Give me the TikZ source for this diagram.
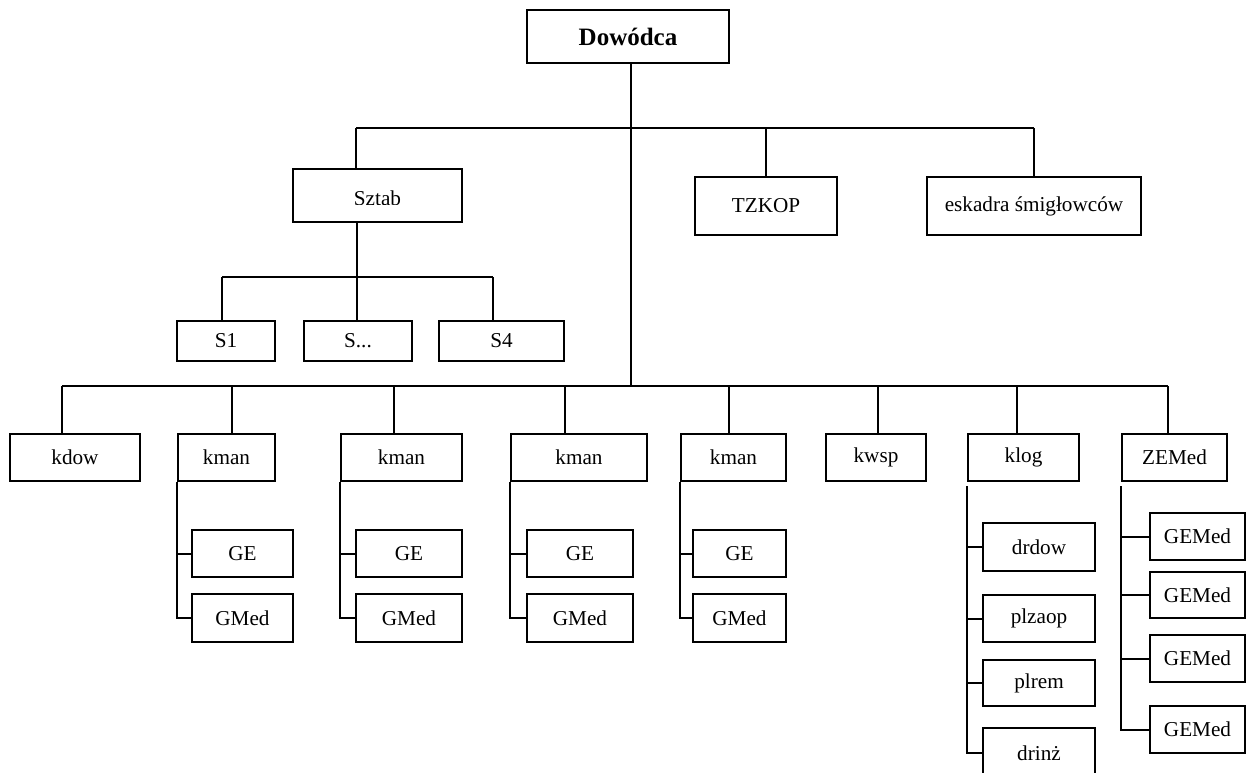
\documentclass[tikz,border=0pt]{standalone}
\usepackage{fontspec}
\setmainfont{Liberation Serif}
\begin{document}
\begin{tikzpicture}[x=1pt,y=-1pt,
  box/.style={draw, line width=2pt, inner sep=0pt, font=\fontsize{21.2}{24}\selectfont},
  conn/.style={line width=2pt}]
\useasboundingbox (0,0) rectangle (1251,773);
\clip (0,0) rectangle (1251,773);
% top
\node[box, minimum width=202pt, minimum height=53pt, font=\fontsize{25}{28}\selectfont\bfseries] (dow) at (628,36.5) {Dowódca};
\node[box, minimum width=169pt, minimum height=53pt] (sztab) at (377.5,195.5) {};
\begin{scope}
  \clip (293,169) rectangle (462,204.3);
  \node[anchor=base, inner sep=0pt, font=\fontsize{21.2}{24}\selectfont] (sztabtxt) at (377.5,205.7) {Sztab};
\end{scope}
\node[box, minimum width=142pt, minimum height=58pt] (tzkop) at (766,206) {TZKOP};
\node[box, minimum width=214pt, minimum height=58pt] (esk) at (1034,206) {eskadra śmigłowców};
% S
\node[box, minimum width=98pt, minimum height=40pt] (s1) at (226,341) {S1};
\node[box, minimum width=108pt, minimum height=40pt] (sdots) at (358,341) {S...};
\node[box, minimum width=125pt, minimum height=40pt] (s4) at (501.5,341) {S4};
% second level
\node[box, minimum width=130pt, minimum height=47pt] (kdow) at (75,457.5) {kdow};
\node[box, minimum width=97pt, minimum height=47pt] (kman1) at (226.5,457.5) {kman};
\node[box, minimum width=121pt, minimum height=47pt] (kman2) at (401.5,457.5) {kman};
\node[box, minimum width=136pt, minimum height=47pt] (kman3) at (579,457.5) {kman};
\node[box, minimum width=105pt, minimum height=47pt] (kman4) at (733.5,457.5) {kman};
\node[box, minimum width=100pt, minimum height=47pt] (kwsp) at (876,457.5) {kwsp};
\node[box, minimum width=111pt, minimum height=47pt] (klog) at (1023.5,457.5) {klog};
\node[box, minimum width=105pt, minimum height=47pt] (zemed) at (1174.5,457.5) {ZEMed};
% GE / GMed
\node[box, minimum width=101pt, minimum height=47pt] (ge1) at (242.5,553.5) {GE};
\node[box, minimum width=101pt, minimum height=48pt] (gmed1) at (242.5,618) {GMed};
\node[box, minimum width=106pt, minimum height=47pt] (ge2) at (409,553.5) {GE};
\node[box, minimum width=106pt, minimum height=48pt] (gmed2) at (409,618) {GMed};
\node[box, minimum width=106pt, minimum height=47pt] (ge3) at (580,553.5) {GE};
\node[box, minimum width=106pt, minimum height=48pt] (gmed3) at (580,618) {GMed};
\node[box, minimum width=93pt, minimum height=47pt] (ge4) at (739.5,553.5) {GE};
\node[box, minimum width=93pt, minimum height=48pt] (gmed4) at (739.5,618) {GMed};
% klog children
\node[box, minimum width=112pt, minimum height=48pt] (drdow) at (1039,547) {drdow};
\node[box, minimum width=112pt, minimum height=47pt] (plzaop) at (1039,618.5) {plzaop};
\node[box, minimum width=112pt, minimum height=46pt] (plrem) at (1039,683) {plrem};
\node[box, minimum width=112pt, minimum height=50pt] (drinz) at (1039,753) {drinż};
% ZEMed children
\node[box, minimum width=95pt, minimum height=47pt] (gemed1) at (1197.5,536.5) {GEMed};
\node[box, minimum width=95pt, minimum height=46pt] (gemed2) at (1197.5,595) {GEMed};
\node[box, minimum width=95pt, minimum height=47pt] (gemed3) at (1197.5,658.5) {GEMed};
\node[box, minimum width=95pt, minimum height=47pt] (gemed4) at (1197.5,729.5) {GEMed};
% coordinates
\coordinate (t) at (631,128);
\coordinate (h1L) at (356,128);
\coordinate (h1R) at (1034,128);
\coordinate (sj) at (357,277);
\coordinate (s1j) at (222,277);
\coordinate (s4j) at (493,277);
\coordinate (b1) at (62,386);
\coordinate (b2) at (232,386);
\coordinate (b3) at (394,386);
\coordinate (b4) at (565,386);
\coordinate (b5) at (729,386);
\coordinate (b6) at (878,386);
\coordinate (b7) at (1017,386);
\coordinate (b8) at (1168,386);
% connectors
\draw[conn] (t |- dow.south) -- (t |- b1);
\draw[conn] (h1L) -- (h1R);
\draw[conn] (h1L) -- (h1L |- sztab.north);
\draw[conn] (tzkop.north |- h1L) -- (tzkop.north);
\draw[conn] (h1R) -- (h1R |- esk.north);
\draw[conn] (sj |- sztab.south) -- (sj);
\draw[conn] (s1j) -- (s4j);
\draw[conn] (s1j) -- (s1j |- s1.north);
\draw[conn] (sj) -- (sj |- sdots.north);
\draw[conn] (s4j) -- (s4j |- s4.north);
\draw[conn] (b1) -- (b8);
\draw[conn] (b1) -- (b1 |- kdow.north);
\draw[conn] (b2) -- (b2 |- kman1.north);
\draw[conn] (b3) -- (b3 |- kman2.north);
\draw[conn] (b4) -- (b4 |- kman3.north);
\draw[conn] (b5) -- (b5 |- kman4.north);
\draw[conn] (b6) -- (b6 |- kwsp.north);
\draw[conn] (b7) -- (b7 |- klog.north);
\draw[conn] (b8) -- (b8 |- zemed.north);
\foreach \k in {1,2,3,4}{
  \draw[conn] (kman\k.south west) -- (kman\k.south west |- gmed\k.west) -- (gmed\k.west);
  \draw[conn] (kman\k.south west |- ge\k.west) -- (ge\k.west);
}
\draw[conn] ([yshift=-4pt]klog.south west) -- (klog.south west |- drinz.west) -- (drinz.west);
\draw[conn] (klog.south west |- drdow.west) -- (drdow.west);
\draw[conn] (klog.south west |- plzaop.west) -- (plzaop.west);
\draw[conn] (klog.south west |- plrem.west) -- (plrem.west);
\draw[conn] ([yshift=-4pt]zemed.south west) -- (zemed.south west |- gemed4.west) -- (gemed4.west);
\draw[conn] (zemed.south west |- gemed1.west) -- (gemed1.west);
\draw[conn] (zemed.south west |- gemed2.west) -- (gemed2.west);
\draw[conn] (zemed.south west |- gemed3.west) -- (gemed3.west);
\end{tikzpicture}
\end{document}
